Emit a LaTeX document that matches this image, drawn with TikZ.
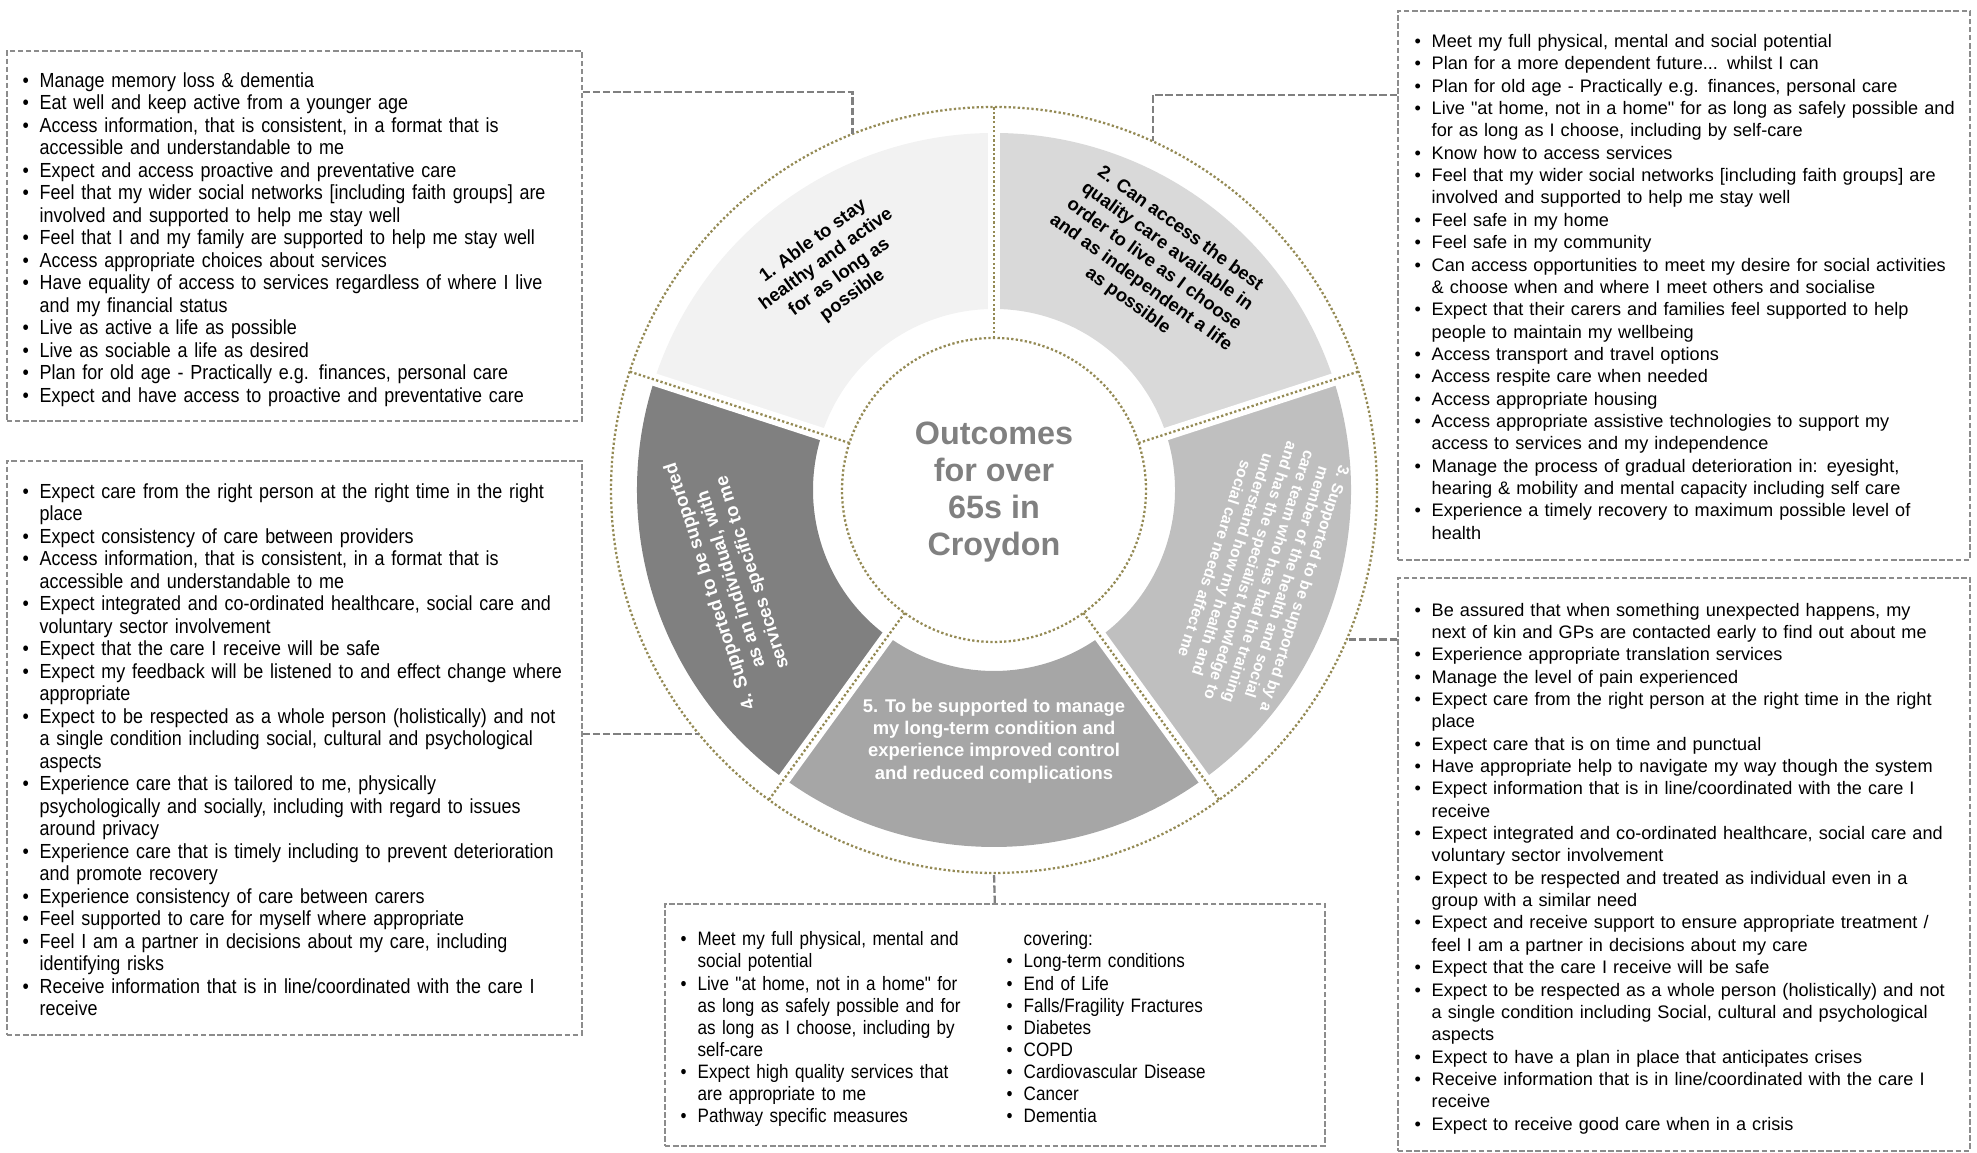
\documentclass[tikz,border=0pt]{standalone}
\usepackage{fontspec}
\setmainfont{Liberation Sans}
\newfontfamily\plainfont{Liberation Sans}
\newfontfamily\narrowfont[FakeStretch=0.88]{Liberation Sans}
\definecolor{dotbrown}{RGB}{148,138,84}
\definecolor{segA}{RGB}{242,242,242}
\definecolor{segB}{RGB}{217,217,217}
\definecolor{segC}{RGB}{191,191,191}
\definecolor{segD}{RGB}{128,128,128}
\definecolor{segE}{RGB}{166,166,166}
\setlength{\parskip}{0pt}
\newcommand{\itm}{\par\noindent\hangindent=0.17cm\hangafter=1\strut\makebox[0.17cm][l]{\textbullet}}

\begin{document}
\begin{tikzpicture}
\tikzstyle{box}=[draw=black!45, line width=0.45pt, dash pattern=on 1.6pt off 0.7pt, anchor=north west, inner sep=0pt]
\tikzstyle{link}=[draw=black!50, line width=0.65pt, dash pattern=on 2.1pt off 0.8pt]
\tikzstyle{list}=[anchor=north west, inner sep=0pt, align=left, font=\plainfont\fontsize{5.16pt}{6.36pt}\selectfont]
\tikzstyle{narrowlist}=[list, font=\narrowfont\fontsize{5.8pt}{6.4pt}\selectfont]
\tikzstyle{dots}=[draw=dotbrown, line width=0.65pt, dash pattern=on 0.65pt off 0.65pt]
\tikzstyle{gap}=[draw=white, line width=3.6pt]
\tikzstyle{segtext}=[align=center, inner sep=0pt, font=\bfseries\fontsize{5.24pt}{6.35pt}\selectfont]

\useasboundingbox (0,0) rectangle (19.77,11.53);

% wheel
\begin{scope}[shift={(9.94,6.63)}]
\fill[segA] (90:3.57) arc[start angle=90,end angle=162,radius=3.57] -- (162:1.81) arc[start angle=162,end angle=90,radius=1.81] -- cycle;
\fill[segB] (18:3.57) arc[start angle=18,end angle=90,radius=3.57] -- (90:1.81) arc[start angle=90,end angle=18,radius=1.81] -- cycle;
\fill[segC] (-54:3.57) arc[start angle=-54,end angle=18,radius=3.57] -- (18:1.81) arc[start angle=18,end angle=-54,radius=1.81] -- cycle;
\fill[segE] (-126:3.57) arc[start angle=-126,end angle=-54,radius=3.57] -- (-54:1.81) arc[start angle=-54,end angle=-126,radius=1.81] -- cycle;
\fill[segD] (162:3.57) arc[start angle=162,end angle=234,radius=3.57] -- (234:1.81) arc[start angle=234,end angle=162,radius=1.81] -- cycle;

\draw[gap] (90:1.6) -- (90:3.7);
\draw[gap] (18:1.6) -- (18:3.7);
\draw[gap] (-54:1.6) -- (-54:3.7);
\draw[gap] (-126:1.6) -- (-126:3.7);
\draw[gap] (162:1.6) -- (162:3.7);

\draw[dots] (0,0) circle[radius=3.83];
\draw[dots] (0,0) circle[radius=1.52];
\draw[dots] (90:1.52) -- (90:3.83);
\draw[dots] (18:1.52) -- (18:3.83);
\draw[dots] (-54:1.52) -- (-54:3.83);
\draw[dots] (-126:1.52) -- (-126:3.83);
\draw[dots] (162:1.52) -- (162:3.83);

\coordinate (o1) at (111.7:3.83);
\coordinate (o2) at (65.5:3.83);
\coordinate (o3) at (-23:3.83);
\coordinate (o4) at (219.3:3.83);
\coordinate (o5) at (-90:3.83);

\node[align=center, text=black!50, font=\bfseries\fontsize{9.2pt}{10.6pt}\selectfont] (mid) at (0,-0.02) {Outcomes\\for over\\65s in\\Croydon};

\node[segtext, rotate=36] (s1) at (126:2.74) {1. Able to stay\\healthy and active\\for as long as\\possible};
\node[segtext, rotate=-36] (s2) at (54.6:2.76) {2. Can access the best\\quality care available in\\order to live as I choose\\and as independent a life\\as possible};
\node[segtext, rotate=-108, text=white, font=\bfseries\fontsize{4.5pt}{5.4pt}\selectfont] (s3) at (-17.5:2.79) {3. Supported to be supported by a\\member of the health and social\\care team who has had the training\\and has the specialist knowledge to\\understand how my health and\\social care needs affect me};
\node[segtext, rotate=108, text=white] (s4) at (198.8:2.77) {4. Supported to be supported\\as an individual, with\\services specific to me};
\node[segtext, text=white] (s5) at (-90:2.51) {5. To be supported to manage\\my long-term condition and\\experience improved control\\and reduced complications};
\end{scope}

% boxes
\node[box, minimum width=5.75cm, minimum height=3.70cm] (b1) at (0.06,11.03) {};
\node[box, minimum width=5.75cm, minimum height=5.74cm] (b4) at (0.06,6.93) {};
\node[box, minimum width=5.72cm, minimum height=5.49cm] (b2) at (13.97,11.43) {};
\node[box, minimum width=5.72cm, minimum height=5.73cm] (b3) at (13.97,5.76) {};
\node[box, minimum width=6.60cm, minimum height=2.42cm] (b5) at (6.64,2.50) {};

\draw[link] (b1.east |- 0,10.61) -| (o1);
\draw[link] (b2.west |- 0,10.58) -| (o2);
\draw[link] (b3.west |- o3) -- (o3);
\draw[link] (b4.east |- 0,4.19) -| (o4);
\draw[link] (b5.north) -- (o5);

\node[narrowlist, text width=5.6cm] (t1) at (0.22,10.89) {%
\itm Manage memory loss \& dementia
\itm Eat well and keep active from a younger age
\itm Access information, that is consistent, in a format that is\newline accessible and understandable to me
\itm Expect and access proactive and preventative care
\itm Feel that my wider social networks [including faith groups] are\newline involved and supported to help me stay well
\itm Feel that I and my family are supported to help me stay well
\itm Access appropriate choices about services
\itm Have equality of access to services regardless of where I live\newline and my financial status
\itm Live as active a life as possible
\itm Live as sociable a life as desired
\itm Plan for old age - Practically e.g. finances, personal care
\itm Expect and have access to proactive and preventative care\par};

\node[narrowlist, text width=5.6cm] (t4) at (0.22,6.78) {%
\itm Expect care from the right person at the right time in the right\newline place
\itm Expect consistency of care between providers
\itm Access information, that is consistent, in a format that is\newline accessible and understandable to me
\itm Expect integrated and co-ordinated healthcare, social care and\newline voluntary sector involvement
\itm Expect that the care I receive will be safe
\itm Expect my feedback will be listened to and effect change where\newline appropriate
\itm Expect to be respected as a whole person (holistically) and not\newline a single condition including social, cultural and psychological\newline aspects
\itm Experience care that is tailored to me, physically\newline psychologically and socially, including with regard to issues\newline around privacy
\itm Experience care that is timely including to prevent deterioration\newline and promote recovery
\itm Experience consistency of care between carers
\itm Feel supported to care for myself where appropriate
\itm Feel I am a partner in decisions about my care, including\newline identifying risks
\itm Receive information that is in line/coordinated with the care I\newline receive\par};

\node[list, text width=5.6cm] (t2) at (14.14,11.285) {%
\itm Meet my full physical, mental and social potential
\itm Plan for a more dependent future... whilst I can
\itm Plan for old age - Practically e.g. finances, personal care
\itm Live "at home, not in a home" for as long as safely possible and\newline for as long as I choose, including by self-care
\itm Know how to access services
\itm Feel that my wider social networks [including faith groups] are\newline involved and supported to help me stay well
\itm Feel safe in my home
\itm Feel safe in my community
\itm Can access opportunities to meet my desire for social activities\newline \& choose when and where I meet others and socialise
\itm Expect that their carers and families feel supported to help\newline people to maintain my wellbeing
\itm Access transport and travel options
\itm Access respite care when needed
\itm Access appropriate housing
\itm Access appropriate assistive technologies to support my\newline access to services and my independence
\itm Manage the process of gradual deterioration in: eyesight,\newline hearing \& mobility and mental capacity including self care
\itm Experience a timely recovery to maximum possible level of\newline health\par};

\node[list, text width=5.6cm] (t3) at (14.14,5.60) {%
\itm Be assured that when something unexpected happens, my\newline next of kin and GPs are contacted early to find out about me
\itm Experience appropriate translation services
\itm Manage the level of pain experienced
\itm Expect care from the right person at the right time in the right\newline place
\itm Expect care that is on time and punctual
\itm Have appropriate help to navigate my way though the system
\itm Expect information that is in line/coordinated with the care I\newline receive
\itm Expect integrated and co-ordinated healthcare, social care and\newline voluntary sector involvement
\itm Expect to be respected and treated as individual even in a\newline group with a similar need
\itm Expect and receive support to ensure appropriate treatment /\newline feel I am a partner in decisions about my care
\itm Expect that the care I receive will be safe
\itm Expect to be respected as a whole person (holistically) and not\newline a single condition including Social, cultural and psychological\newline aspects
\itm Expect to have a plan in place that anticipates crises
\itm Receive information that is in line/coordinated with the care I\newline receive
\itm Expect to receive good care when in a crisis\par};

\node[narrowlist, text width=3.2cm, font=\narrowfont\fontsize{5.52pt}{6.3pt}\selectfont] (t5) at (6.80,2.30) {%
\itm Meet my full physical, mental and\newline social potential
\itm Live "at home, not in a home" for\newline as long as safely possible and for\newline as long as I choose, including by\newline self-care
\itm Expect high quality services that\newline are appropriate to me
\itm Pathway specific measures\par};

\node[narrowlist, text width=3.2cm, font=\narrowfont\fontsize{5.52pt}{6.3pt}\selectfont] (t6) at (10.06,2.30) {%
\par\noindent\strut\hspace*{0.17cm}covering:
\itm Long-term conditions
\itm End of Life
\itm Falls/Fragility Fractures
\itm Diabetes
\itm COPD
\itm Cardiovascular Disease
\itm Cancer
\itm Dementia\par};

\end{tikzpicture}
\end{document}
